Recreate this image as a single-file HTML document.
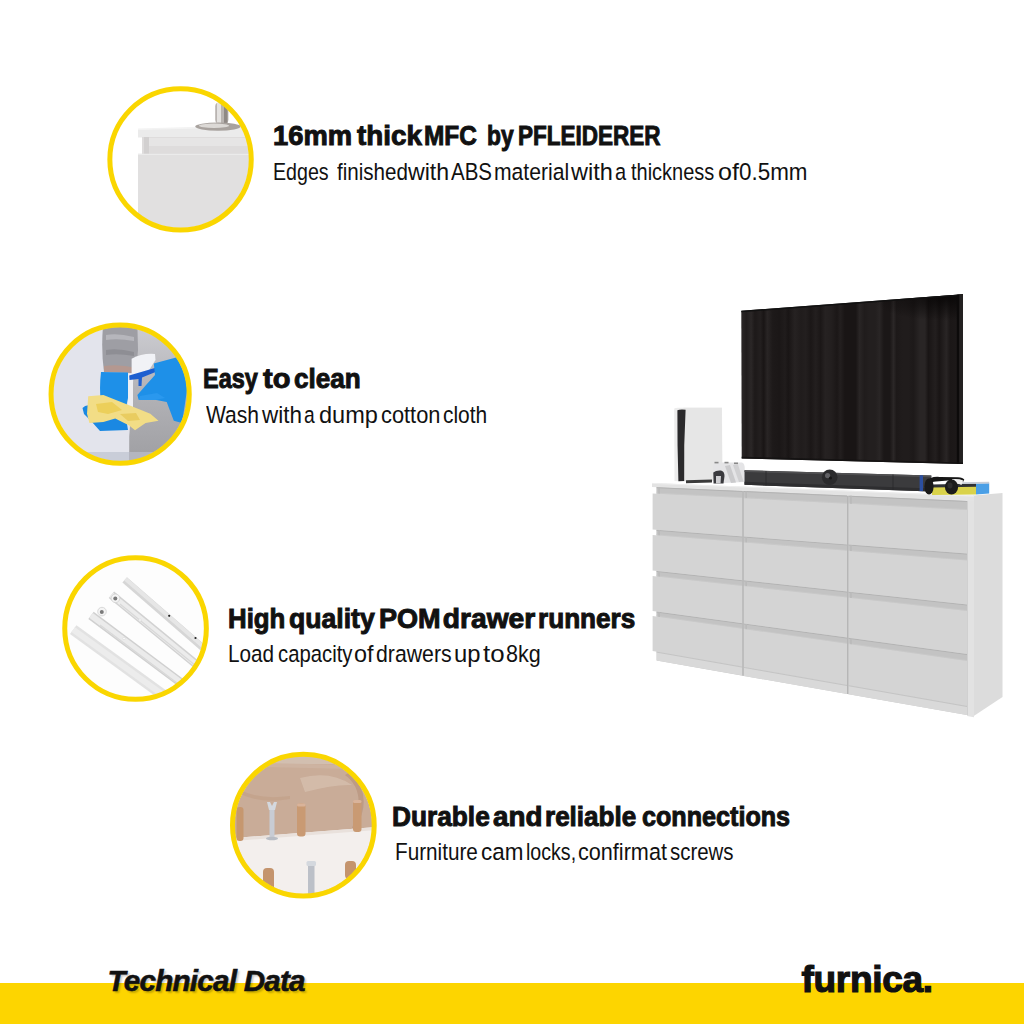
<!DOCTYPE html>
<html><head><meta charset="utf-8"><style>
html,body{margin:0;padding:0;background:#fff;}
body{width:1024px;height:1024px;position:relative;overflow:hidden;font-family:"Liberation Sans",sans-serif;}
.t,.s{position:absolute;white-space:pre;transform-origin:0 0;color:#111;}
.t{font-weight:bold;font-size:28.2px;line-height:28.2px;-webkit-text-stroke:1px #111;}
.s{font-weight:normal;font-size:24.3px;line-height:24.3px;}
svg{position:absolute;left:0;top:0;}
.bar{position:absolute;left:0;top:983px;width:1024px;height:41px;background:#fdd500;}
.td{position:absolute;left:107.5px;top:963.5px;font:italic bold 29.6px/34px "Liberation Sans",sans-serif;letter-spacing:-0.75px;color:#111;white-space:pre;-webkit-text-stroke:0.6px #111;text-shadow:2px 2px 2px rgba(0,0,0,.22);}
.logo{position:absolute;left:801.5px;top:960px;font:bold 37px/40px "Liberation Sans",sans-serif;color:#111;letter-spacing:-0.3px;white-space:pre;-webkit-text-stroke:1.2px #111;}
</style></head><body>
<div class="bar"></div>
<svg width="1024" height="1024" viewBox="0 0 1024 1024">
<defs>
<linearGradient id="tvg" gradientUnits="userSpaceOnUse" x1="741.5" y1="0" x2="962" y2="0"><stop offset="0.0000" stop-color="#2b2727"/><stop offset="0.0218" stop-color="#201c1c"/><stop offset="0.0436" stop-color="#2b2727"/><stop offset="0.0606" stop-color="#1d1919"/><stop offset="0.0856" stop-color="#231f1f"/><stop offset="0.1009" stop-color="#191515"/><stop offset="0.1171" stop-color="#292525"/><stop offset="0.1415" stop-color="#1d1919"/><stop offset="0.1726" stop-color="#1b1717"/><stop offset="0.1975" stop-color="#201c1c"/><stop offset="0.2122" stop-color="#191515"/><stop offset="0.2418" stop-color="#262222"/><stop offset="0.2695" stop-color="#201c1c"/><stop offset="0.2911" stop-color="#231f1f"/><stop offset="0.3141" stop-color="#1b1717"/><stop offset="0.3368" stop-color="#231f1f"/><stop offset="0.3587" stop-color="#1b1717"/><stop offset="0.3797" stop-color="#262222"/><stop offset="0.4061" stop-color="#231f1f"/><stop offset="0.4335" stop-color="#1b1717"/><stop offset="0.4476" stop-color="#231f1f"/><stop offset="0.4685" stop-color="#191515"/><stop offset="0.4891" stop-color="#191515"/><stop offset="0.5181" stop-color="#191515"/><stop offset="0.5355" stop-color="#292525"/><stop offset="0.5577" stop-color="#201c1c"/><stop offset="0.5789" stop-color="#231f1f"/><stop offset="0.6066" stop-color="#231f1f"/><stop offset="0.6263" stop-color="#292525"/><stop offset="0.6460" stop-color="#1b1717"/><stop offset="0.6733" stop-color="#1b1717"/><stop offset="0.6894" stop-color="#2b2727"/><stop offset="0.7032" stop-color="#1d1919"/><stop offset="0.7313" stop-color="#201c1c"/><stop offset="0.7572" stop-color="#201c1c"/><stop offset="0.7790" stop-color="#1d1919"/><stop offset="0.8104" stop-color="#292525"/><stop offset="0.8316" stop-color="#292525"/><stop offset="0.8474" stop-color="#191515"/><stop offset="0.8789" stop-color="#231f1f"/><stop offset="0.8974" stop-color="#191515"/><stop offset="0.9291" stop-color="#292525"/><stop offset="0.9466" stop-color="#1b1717"/><stop offset="0.9782" stop-color="#1d1919"/><stop offset="0.9926" stop-color="#231f1f"/></linearGradient>
<radialGradient id="tvdark" gradientUnits="userSpaceOnUse" cx="0" cy="0" r="1" gradientTransform="translate(945 297) scale(75 24)"><stop offset="0" stop-color="#080606" stop-opacity="0.9"/><stop offset="1" stop-color="#080606" stop-opacity="0"/></radialGradient>
</defs>
<!-- TV -->
<polygon points="741.3,310.8 963,294.2 962.9,464.1 741.7,458.4" fill="url(#tvg)"/>
<polygon points="741.3,310.8 963,294.2 962.9,464.1 741.7,458.4" fill="url(#tvdark)"/>
<polygon points="741.3,310.8 963,294.2 963,295.8 741.3,312.2" fill="#111"/>
<polygon points="956.8,294.7 959.3,294.5 959.3,464 956.8,463.9" fill="#0c0a0a"/>
<polygon points="959.3,294.5 963,294.2 962.9,464.1 959.3,464" fill="#232121"/>
<polygon points="741.7,456.8 962.9,462.4 962.9,464.1 741.7,458.4" fill="#141212"/>
<polygon points="656.6,487.2 974.0,501.3 974.0,716.2 656.6,660.6" fill="#c8c8c8"/>
<polygon points="973,495.6 1002.5,493 1002.5,697 973,716.5" fill="#dcdcdc"/>
<polygon points="967,495.5 974,495.8 974,717.2 967,716.0" fill="#e2e2e2"/>
<line x1="967.3" y1="501.0" x2="967.3" y2="715.0" stroke="#c6c6c6" stroke-width="0.8"/>
<polygon points="652.0,483.0 974.0,495.8 974.0,501.3 652.0,487.0" fill="#e3e3e3"/>
<line x1="652" y1="483.4" x2="974" y2="496.2" stroke="#eeeeee" stroke-width="1"/>
<polygon points="656.6,487.2 742.3,491.0 742.3,498.1 656.6,493.6" fill="#c3c3c3"/>
<line x1="656.6" y1="487.7" x2="742.3" y2="491.5" stroke="#b3b3b3" stroke-width="1"/>
<line x1="656.6" y1="493.1" x2="742.3" y2="497.6" stroke="#c9c9c9" stroke-width="1"/>
<line x1="659.1" y1="487.3" x2="659.1" y2="493.7" stroke="#bababa" stroke-width="1.6"/>
<polygon points="656.6,529.8 742.3,536.4 742.3,542.3 656.6,535.3" fill="#c3c3c3"/>
<line x1="656.6" y1="530.3" x2="742.3" y2="536.9" stroke="#b3b3b3" stroke-width="1"/>
<line x1="656.6" y1="534.8" x2="742.3" y2="541.8" stroke="#c9c9c9" stroke-width="1"/>
<line x1="659.1" y1="530.0" x2="659.1" y2="535.5" stroke="#bababa" stroke-width="1.6"/>
<polygon points="656.6,570.9 742.3,580.2 742.3,586.0 656.6,576.4" fill="#c3c3c3"/>
<line x1="656.6" y1="571.4" x2="742.3" y2="580.7" stroke="#b3b3b3" stroke-width="1"/>
<line x1="656.6" y1="575.9" x2="742.3" y2="585.5" stroke="#c9c9c9" stroke-width="1"/>
<line x1="659.1" y1="571.2" x2="659.1" y2="576.7" stroke="#bababa" stroke-width="1.6"/>
<polygon points="656.6,611.5 742.3,623.2 742.3,628.8 656.6,616.5" fill="#c3c3c3"/>
<line x1="656.6" y1="612.0" x2="742.3" y2="623.7" stroke="#b3b3b3" stroke-width="1"/>
<line x1="656.6" y1="616.0" x2="742.3" y2="628.3" stroke="#c9c9c9" stroke-width="1"/>
<line x1="659.1" y1="611.8" x2="659.1" y2="616.9" stroke="#bababa" stroke-width="1.6"/>
<polygon points="652.6,493.4 742.3,498.1 742.3,536.4 652.6,529.5" fill="#d4d4d4"/>
<polygon points="652.6,535.0 742.3,542.3 742.3,580.2 652.6,570.5" fill="#d4d4d4"/>
<polygon points="652.6,576.0 742.3,586.0 742.3,623.2 652.6,610.9" fill="#d4d4d4"/>
<polygon points="652.6,615.9 742.3,628.8 742.3,666.6 652.6,650.9" fill="#d4d4d4"/>
<polygon points="656.6,651.6 742.3,666.6 742.3,675.6 656.6,660.6" fill="#d9d9d9"/>
<line x1="656.6" y1="652.1" x2="742.3" y2="667.1" stroke="#c4c4c4" stroke-width="1"/>
<polygon points="743.7,491.0 847.0,495.6 847.0,503.7 743.7,498.2" fill="#c3c3c3"/>
<line x1="743.7" y1="491.5" x2="847.0" y2="496.1" stroke="#b3b3b3" stroke-width="1"/>
<line x1="743.7" y1="497.7" x2="847.0" y2="503.2" stroke="#c9c9c9" stroke-width="1"/>
<line x1="746.2" y1="491.2" x2="746.2" y2="498.3" stroke="#bababa" stroke-width="1.6"/>
<polygon points="743.7,536.5 847.0,544.4 847.0,550.8 743.7,542.4" fill="#c3c3c3"/>
<line x1="743.7" y1="537.0" x2="847.0" y2="544.9" stroke="#b3b3b3" stroke-width="1"/>
<line x1="743.7" y1="541.9" x2="847.0" y2="550.3" stroke="#c9c9c9" stroke-width="1"/>
<line x1="746.2" y1="536.7" x2="746.2" y2="542.6" stroke="#bababa" stroke-width="1.6"/>
<polygon points="743.7,580.3 847.0,591.5 847.0,597.6 743.7,586.1" fill="#c3c3c3"/>
<line x1="743.7" y1="580.8" x2="847.0" y2="592.0" stroke="#b3b3b3" stroke-width="1"/>
<line x1="743.7" y1="585.6" x2="847.0" y2="597.1" stroke="#c9c9c9" stroke-width="1"/>
<line x1="746.2" y1="580.6" x2="746.2" y2="586.4" stroke="#bababa" stroke-width="1.6"/>
<polygon points="743.7,623.4 847.0,637.6 847.0,643.8 743.7,629.0" fill="#c3c3c3"/>
<line x1="743.7" y1="623.9" x2="847.0" y2="638.1" stroke="#b3b3b3" stroke-width="1"/>
<line x1="743.7" y1="628.5" x2="847.0" y2="643.3" stroke="#c9c9c9" stroke-width="1"/>
<line x1="746.2" y1="623.8" x2="746.2" y2="629.4" stroke="#bababa" stroke-width="1.6"/>
<polygon points="743.7,498.2 847.0,503.7 847.0,544.4 743.7,536.5" fill="#d4d4d4"/>
<polygon points="743.7,542.4 847.0,550.8 847.0,591.5 743.7,580.3" fill="#d4d4d4"/>
<polygon points="743.7,586.1 847.0,597.6 847.0,637.6 743.7,623.4" fill="#d4d4d4"/>
<polygon points="743.7,629.0 847.0,643.8 847.0,685.0 743.7,666.9" fill="#d4d4d4"/>
<polygon points="743.7,666.9 847.0,685.0 847.0,694.0 743.7,675.9" fill="#d9d9d9"/>
<line x1="743.7" y1="667.4" x2="847.0" y2="685.5" stroke="#c4c4c4" stroke-width="1"/>
<polygon points="848.5,495.7 967.0,501.0 967.0,510.0 848.5,503.7" fill="#c3c3c3"/>
<line x1="848.5" y1="496.2" x2="967.0" y2="501.5" stroke="#b3b3b3" stroke-width="1"/>
<line x1="848.5" y1="503.2" x2="967.0" y2="509.5" stroke="#c9c9c9" stroke-width="1"/>
<line x1="851.0" y1="495.8" x2="851.0" y2="503.9" stroke="#bababa" stroke-width="1.6"/>
<polygon points="848.5,544.5 967.0,553.6 967.0,560.6 848.5,550.9" fill="#c3c3c3"/>
<line x1="848.5" y1="545.0" x2="967.0" y2="554.1" stroke="#b3b3b3" stroke-width="1"/>
<line x1="848.5" y1="550.4" x2="967.0" y2="560.1" stroke="#c9c9c9" stroke-width="1"/>
<line x1="851.0" y1="544.7" x2="851.0" y2="551.1" stroke="#bababa" stroke-width="1.6"/>
<polygon points="848.5,591.7 967.0,604.5 967.0,611.0 848.5,597.8" fill="#c3c3c3"/>
<line x1="848.5" y1="592.2" x2="967.0" y2="605.0" stroke="#b3b3b3" stroke-width="1"/>
<line x1="848.5" y1="597.3" x2="967.0" y2="610.5" stroke="#c9c9c9" stroke-width="1"/>
<line x1="851.0" y1="591.9" x2="851.0" y2="598.1" stroke="#bababa" stroke-width="1.6"/>
<polygon points="848.5,637.8 967.0,654.0 967.0,661.0 848.5,644.0" fill="#c3c3c3"/>
<line x1="848.5" y1="638.3" x2="967.0" y2="654.5" stroke="#b3b3b3" stroke-width="1"/>
<line x1="848.5" y1="643.5" x2="967.0" y2="660.5" stroke="#c9c9c9" stroke-width="1"/>
<line x1="851.0" y1="638.1" x2="851.0" y2="644.4" stroke="#bababa" stroke-width="1.6"/>
<polygon points="848.5,503.7 967.0,510.0 967.0,553.6 848.5,544.5" fill="#d4d4d4"/>
<polygon points="848.5,550.9 967.0,560.6 967.0,604.5 848.5,591.7" fill="#d4d4d4"/>
<polygon points="848.5,597.8 967.0,611.0 967.0,654.0 848.5,637.8" fill="#d4d4d4"/>
<polygon points="848.5,644.0 967.0,661.0 967.0,706.0 848.5,685.2" fill="#d4d4d4"/>
<polygon points="848.5,685.2 967.0,706.0 967.0,715.0 848.5,694.2" fill="#d9d9d9"/>
<line x1="848.5" y1="685.7" x2="967.0" y2="706.5" stroke="#c4c4c4" stroke-width="1"/>
<line x1="743.0" y1="491.0" x2="743.0" y2="675.8" stroke="#b3b3b3" stroke-width="1.1"/>
<line x1="847.7" y1="495.7" x2="847.7" y2="694.1" stroke="#b3b3b3" stroke-width="1.1"/>

<!-- PS5 -->
<path d="M674.2,408.5 Q676,407.6 678,407.7 L722,407.7 L722.4,480.5 L686,481.5 L674.5,481 Z" fill="#ececec"/>
<path d="M683.5,407.8 L721.8,407.8 L722.3,480.5 L685,481.2 Q683.2,446 683.5,407.8 Z" fill="#e6e6e6"/>
<path d="M677.4,410.2 Q680,409.3 685.6,409.8 Q683.6,445 684.2,481 L678.4,481.2 Q677.2,445 677.4,410.2 Z" fill="#2b2a2c"/>
<path d="M686,480.3 L712,479.6 L712,482.6 L686,483.3 Z" fill="#3a3a3a"/>
<!-- controllers -->
<path d="M713,466 Q714,462.5 718,462.6 L742,462.6 Q745,463.5 744.8,470 L744.5,482 L713.5,483.6 Z" fill="#e4e4e6"/>
<path d="M713.3,472.5 Q716,470.2 721,470.6 Q724.5,471.5 724.5,476 L723.5,483.4 L713.6,483.6 Z" fill="#3a3a3e"/>
<path d="M716,476 L721,476 L720.5,483.4 L716,483.5 Z" fill="#cfcfd2"/>
<path d="M725,466 L730,465 L736,482.5 L731,483 Z" fill="#cacacc"/>
<path d="M733,465 L738,464.5 L743.5,481.5 L739,482 Z" fill="#d0d0d2"/>
<rect x="714.5" y="461.8" width="4" height="1.6" fill="#888"/>
<rect x="724.5" y="461.8" width="4" height="1.6" fill="#888"/>
<rect x="734" y="462.5" width="4" height="1.6" fill="#888"/>
<!-- soundbar -->
<polygon points="744.5,470.3 931.3,475.5 931.3,491.6 744.5,484.8" fill="#3b3b3d"/>
<polygon points="744.5,470.3 931.3,475.5 931.3,477.2 744.5,472" fill="#505052"/>
<polygon points="744.5,481.8 931.3,488.4 931.3,491.6 744.5,484.8" fill="#2e2e30"/>
<line x1="766" y1="471" x2="766" y2="485.5" stroke="#2a2a2c" stroke-width="0.8"/>
<line x1="893" y1="474.5" x2="893" y2="490" stroke="#2a2a2c" stroke-width="0.8"/>
<rect x="919.6" y="475.3" width="3.4" height="15.8" fill="#2c4fa0"/>
<circle cx="829.7" cy="477.3" r="7.8" fill="#2a2a2c"/>
<circle cx="827.6" cy="475.6" r="2.6" fill="#606064"/>
<circle cx="830.5" cy="478" r="1.5" fill="#151515"/>
<!-- books -->
<polygon points="932,486 976,485.2 976,494.6 932,495" fill="#d9d24a"/>
<polygon points="932,484.6 976,483.6 976,486.8 932,487.4" fill="#303236"/>
<polygon points="976,483.5 989.2,483.2 989.2,493.6 976,494.6" fill="#4a9fe6"/>
<polygon points="960,482.3 989.2,481.8 989.2,483.4 960,483.9" fill="#c8cdd6"/>
<!-- headphones -->
<path d="M926.5,482 Q930,476 940,477 L958,477.3 Q963,477.8 964.3,479.5 L963,482 Q957,480 948,480.5 L936,481.5 Q931,482 929,484 Z" fill="#161616"/>
<path d="M952,479.2 Q959,478.6 963.2,480.5 L961.5,485 Q957,482.5 952,482 Z" fill="#f0f0f0"/>
<ellipse cx="929" cy="486.5" rx="4.6" ry="8" fill="#1a1a1a"/>
<ellipse cx="951.5" cy="487" rx="6.6" ry="7.4" fill="#1c1c1c"/>
<ellipse cx="950" cy="485.5" rx="2.5" ry="3" fill="#2e2e2e"/>

<clipPath id="cp1"><circle cx="180.55" cy="159.4" r="68.7"/></clipPath>
<g clip-path="url(#cp1)">
<rect x="100" y="80" width="170" height="170" fill="#ffffff"/>
<!-- top board -->
<polygon points="138,129.5 260,126 260,137.5 138,137.5" fill="#ebebeb"/>
<polygon points="138,128.5 260,125 260,127 138,130" fill="#f3f3f3"/>
<!-- recess -->
<rect x="142" y="137" width="120" height="17" fill="#dedcdc"/>
<rect x="147" y="138" width="115" height="8" fill="#e6e5e5"/>
<rect x="144" y="137" width="5" height="17" fill="#d2d0d0"/>
<!-- drawer front -->
<rect x="138" y="153.8" width="124" height="100" fill="#e1e0e0"/>
<rect x="138" y="153.8" width="124" height="1.2" fill="#ebebeb"/>
<!-- knob -->
<rect x="215.2" y="102.5" width="13.2" height="21" rx="4" fill="#b9b4b1"/>
<rect x="217" y="103" width="4" height="20" fill="#e4e2e0"/>
<rect x="224" y="105" width="3.5" height="18" fill="#8f8985"/>
<ellipse cx="218" cy="126.6" rx="22.8" ry="4.1" fill="#a8a29e"/>
<ellipse cx="214" cy="125.8" rx="15" ry="2.2" fill="#dcd9d6"/>
</g>
<circle cx="180.55" cy="159.4" r="70.70" fill="none" stroke="#fad600" stroke-width="5.0"/><clipPath id="cp2"><circle cx="120.15" cy="394.15" r="67.1"/></clipPath>
<linearGradient id="g2r" x1="0" y1="0" x2="0" y2="1"><stop offset="0" stop-color="#cfcfd4"/><stop offset="0.45" stop-color="#b4b4b8"/><stop offset="1" stop-color="#9c9ca0"/></linearGradient>
<g clip-path="url(#cp2)">
<rect x="40" y="315" width="170" height="170" fill="#e3e4ec"/>
<polygon points="137.4,320 210,320 210,470 129.2,470 129.2,437" fill="url(#g2r)"/>
<rect x="40" y="452" width="170" height="30" fill="#c9cdd8"/>
<polygon points="129,452 210,452 210,470 129,470" fill="#b4b6c0"/>
<!-- sleeve -->
<path d="M103,326 L137.4,326 L138,350 L136,373 L104,372 Q101,350 103,326 Z" fill="#9e9ea4"/>
<path d="M106,335 Q118,333 134,337 L134,341 Q118,338 106,340 Z" fill="#b6b6bc"/>
<path d="M106,350 Q118,348 134,352 L134,356 Q118,353 106,355 Z" fill="#8e8e94"/>
<path d="M104,366 Q120,364 136,368 L136,373 L104,372 Z" fill="#b49890"/>
<!-- bottle body -->
<rect x="128" y="374" width="5" height="36" fill="#eeeff3"/>
<!-- spray head -->
<path d="M131.6,358.7 Q142,353 155,354 L155.5,360 L146,375 L131.6,376.2 Z" fill="#f1f2f6"/>
<!-- trigger -->
<path d="M129.2,375.5 L157.3,367.2 L158,371 L142,377.5 L141.5,386 L138.5,386 L138.5,379 L129.5,380 Z" fill="#1d5fd0"/>
<!-- left glove -->
<path d="M101,372 L128,372.5 L128,398 L126,408 L101,404 Q99,388 101,372 Z" fill="#1e90e8"/>
<path d="M82.5,408 Q86,404 92,406 L96,416 L126,418 L128,430 L100,431 L92,422 L84,414 Z" fill="#1a88e2"/>
<!-- right glove -->
<path d="M153.8,363.4 L176.1,357.5 L185.5,369.2 L187,390.3 L182,423.1 L173.8,420.8 L166.7,402 L155,399.7 L138.6,399.7 L137.4,395 L145.6,385.6 L155,375 Z" fill="#1e90e8"/>
<path d="M140,396 L157,393 L165,398 L155,400 L139,400 Z" fill="#2a98ee"/>
<!-- cloth -->
<path d="M88.2,396.2 L103.4,395 L121,402 L138.6,409 L150.3,413.8 L158.5,420.8 L145.6,423.1 L135,430.2 L129.2,425.5 L115.2,418.4 L103.4,422 L89.4,423.1 L87,413.8 Z" fill="#f2dd86"/>
<path d="M96,404 L112,402 L122,410 L108,414 L98,412 Z" fill="#eccf5a"/>
<path d="M120,414 L136,413 L140,420 L128,421 Z" fill="#e9cc60"/>
</g>
<circle cx="120.15" cy="394.15" r="69.10" fill="none" stroke="#fad600" stroke-width="5.0"/><clipPath id="cp3"><circle cx="135.55" cy="628.45" r="68.8"/></clipPath>
<g clip-path="url(#cp3)">
<rect x="55" y="545" width="170" height="170" fill="#fdfdfd"/>
<g stroke-linecap="butt" fill="none">
<line x1="124.7" y1="579.8" x2="205" y2="649.6" stroke="#d6d6d6" stroke-width="7"/>
<line x1="125.5" y1="579.0" x2="205.8" y2="648.8" stroke="#e6e6e6" stroke-width="4"/>
<line x1="111.4" y1="594.8" x2="198" y2="665.8" stroke="#d2d2d2" stroke-width="8.5"/>
<line x1="111.4" y1="594.8" x2="198" y2="665.8" stroke="#ececec" stroke-width="5.5"/>
<line x1="120" y1="604" x2="196" y2="666" stroke="#d8d8d8" stroke-width="1.2"/>
<line x1="91" y1="615.4" x2="188" y2="688" stroke="#d0d0d0" stroke-width="9"/>
<line x1="91" y1="615.4" x2="188" y2="688" stroke="#ebebeb" stroke-width="6"/>
<line x1="100" y1="625" x2="185" y2="689" stroke="#d8d8d8" stroke-width="1.2"/>
<line x1="73.2" y1="629.6" x2="170" y2="700" stroke="#e2e2e2" stroke-width="11"/>
<line x1="73.2" y1="629.6" x2="170" y2="700" stroke="#ececec" stroke-width="6"/>
</g>
<circle cx="115.5" cy="598.3" r="4.3" fill="#f4f4f4" stroke="#d0d0d0" stroke-width="0.8"/><circle cx="115.3" cy="598.6" r="2" fill="#7a7a7a"/>
<circle cx="102" cy="611.6" r="4.3" fill="#f4f4f4" stroke="#d0d0d0" stroke-width="0.8"/><circle cx="101.8" cy="611.9" r="2" fill="#7a7a7a"/>
<circle cx="169.2" cy="615.8" r="1.1" fill="#222"/><circle cx="195.5" cy="638" r="1.1" fill="#222"/>
<circle cx="140" cy="620" r="1.2" fill="#fff" stroke="#d8d8d8" stroke-width="0.6"/>
<circle cx="124" cy="638.5" r="1.2" fill="#fff" stroke="#d8d8d8" stroke-width="0.6"/>
</g>
<circle cx="135.55" cy="628.45" r="70.80" fill="none" stroke="#fad600" stroke-width="5.0"/><clipPath id="cp4"><circle cx="303.35" cy="825.15" r="68.85"/></clipPath>
<g clip-path="url(#cp4)">
<rect x="220" y="740" width="170" height="170" fill="#c9ac98"/>
<rect x="220" y="740" width="170" height="24" fill="#d2bfb0"/>
<polygon points="220,762 390,766 390,770 220,766" fill="#cdb3a1"/>
<path d="M300,778 Q330,770 352,785 Q335,784 305,792 Z" fill="#d6bfae" opacity="0.8"/>
<path d="M345,775 Q368,792 352,828 L356,828 Q374,795 350,772 Z" fill="#b8947e" opacity="0.7"/>
<path d="M240,790 Q260,800 290,796 L290,799 Q262,804 240,794 Z" fill="#c29f86" opacity="0.6"/>
<!-- board -->
<polygon points="220,839 390,826 390,910 220,910" fill="#f3efed"/>
<polygon points="220,839 390,826 390,829 220,842" fill="#e9e1dc"/>
<!-- dowels -->
<rect x="236.5" y="807" width="7" height="34" rx="3" fill="#c6976f"/>
<rect x="297" y="803.5" width="8.5" height="33" rx="3" fill="#c99a73"/>
<rect x="297" y="803.5" width="8.5" height="3" rx="1.5" fill="#d9b39a"/>
<rect x="353" y="800" width="8.5" height="32" rx="3" fill="#c99a73"/>
<rect x="353" y="800" width="8.5" height="3" rx="1.5" fill="#d9b39a"/>
<rect x="263" y="868" width="11" height="22" rx="4" fill="#c4946d"/>
<rect x="345" y="861" width="11" height="18" rx="4" fill="#c4946d"/>
<!-- screws -->
<rect x="269.5" y="808" width="5" height="30" fill="#c8ccd4"/>
<path d="M267,802 L270,802 L272,806 L274,802 L277,802 L275,810 L269,810 Z" fill="#d4d8de"/>
<ellipse cx="272" cy="838.5" rx="6" ry="1.8" fill="#b8bcc4"/>
<rect x="308" y="865" width="6.5" height="30" fill="#bcc0c8"/>
<rect x="306.5" y="861" width="9.5" height="5" rx="1.5" fill="#d4d8de"/>
</g>
<circle cx="303.35" cy="825.15" r="70.85" fill="none" stroke="#fad600" stroke-width="5.0"/>
</svg>
<span class="t" style="left:272.86px;top:120.90px;transform:scaleX(0.9705)">16mm</span>
<span class="t" style="left:357.40px;top:120.90px;transform:scaleX(0.9862)">thick</span>
<span class="t" style="left:424.17px;top:120.90px;transform:scaleX(0.8655)">MFC</span>
<span class="t" style="left:486.78px;top:120.90px;transform:scaleX(0.8097)">by</span>
<span class="t" style="left:517.80px;top:120.90px;transform:scaleX(0.7989)">PFLEIDERER</span>
<span class="s" style="left:273.28px;top:159.70px;transform:scaleX(0.8076)">Edges</span>
<span class="s" style="left:336.80px;top:159.70px;transform:scaleX(0.8476)">finished</span>
<span class="s" style="left:407.70px;top:159.70px;transform:scaleX(0.9524)">with</span>
<span class="s" style="left:450.70px;top:159.70px;transform:scaleX(0.8438)">ABS</span>
<span class="s" style="left:493.96px;top:159.70px;transform:scaleX(0.8699)">material</span>
<span class="s" style="left:571.30px;top:159.70px;transform:scaleX(0.9667)">with</span>
<span class="s" style="left:614.98px;top:159.70px;transform:scaleX(0.8231)">a</span>
<span class="s" style="left:630.70px;top:159.70px;transform:scaleX(0.8223)">thickness</span>
<span class="s" style="left:717.57px;top:159.70px;transform:scaleX(1.0316)">of</span>
<span class="s" style="left:739.18px;top:159.70px;transform:scaleX(0.9222)">0.5mm</span>
<span class="t" style="left:203.43px;top:363.80px;transform:scaleX(0.8328)">Easy</span>
<span class="t" style="left:263.20px;top:363.80px;transform:scaleX(1.0308)">to</span>
<span class="t" style="left:294.18px;top:363.80px;transform:scaleX(0.9246)">clean</span>
<span class="s" style="left:205.90px;top:402.50px;transform:scaleX(0.8667)">Wash</span>
<span class="s" style="left:262.30px;top:402.50px;transform:scaleX(0.9238)">with</span>
<span class="s" style="left:303.91px;top:402.50px;transform:scaleX(0.7923)">a</span>
<span class="s" style="left:318.73px;top:402.50px;transform:scaleX(0.9678)">dump</span>
<span class="s" style="left:380.80px;top:402.50px;transform:scaleX(0.8984)">cotton</span>
<span class="s" style="left:442.74px;top:402.50px;transform:scaleX(0.8612)">cloth</span>
<span class="t" style="left:228.37px;top:604.40px;transform:scaleX(0.9153)">High</span>
<span class="t" style="left:289.06px;top:604.40px;transform:scaleX(0.9433)">quality</span>
<span class="t" style="left:378.68px;top:604.40px;transform:scaleX(0.9600)">POM</span>
<span class="t" style="left:442.80px;top:604.40px;transform:scaleX(1.0000)">drawer</span>
<span class="t" style="left:538.25px;top:604.40px;transform:scaleX(0.9275)">runners</span>
<span class="s" style="left:228.29px;top:641.80px;transform:scaleX(0.8529)">Load</span>
<span class="s" style="left:277.66px;top:641.80px;transform:scaleX(0.8352)">capacity</span>
<span class="s" style="left:354.34px;top:641.80px;transform:scaleX(0.9632)">of</span>
<span class="s" style="left:375.92px;top:641.80px;transform:scaleX(0.8753)">drawers</span>
<span class="s" style="left:453.84px;top:641.80px;transform:scaleX(0.9792)">up</span>
<span class="s" style="left:482.50px;top:641.80px;transform:scaleX(1.0632)">to</span>
<span class="s" style="left:505.91px;top:641.80px;transform:scaleX(0.8865)">8kg</span>
<span class="t" style="left:392.04px;top:802.10px;transform:scaleX(0.9314)">Durable</span>
<span class="t" style="left:493.21px;top:802.10px;transform:scaleX(0.9851)">and</span>
<span class="t" style="left:544.95px;top:802.10px;transform:scaleX(0.9240)">reliable</span>
<span class="t" style="left:642.41px;top:802.10px;transform:scaleX(0.8921)">connections</span>
<span class="s" style="left:395.40px;top:839.50px;transform:scaleX(0.8521)">Furniture</span>
<span class="s" style="left:481.48px;top:839.50px;transform:scaleX(0.9233)">cam</span>
<span class="s" style="left:526.09px;top:839.50px;transform:scaleX(0.8069)">locks,</span>
<span class="s" style="left:577.71px;top:839.50px;transform:scaleX(0.8899)">confirmat</span>
<span class="s" style="left:670.46px;top:839.50px;transform:scaleX(0.8405)">screws</span>
<div class="td">Technical Data</div>
<div class="logo">furnica.</div>
</body></html>
